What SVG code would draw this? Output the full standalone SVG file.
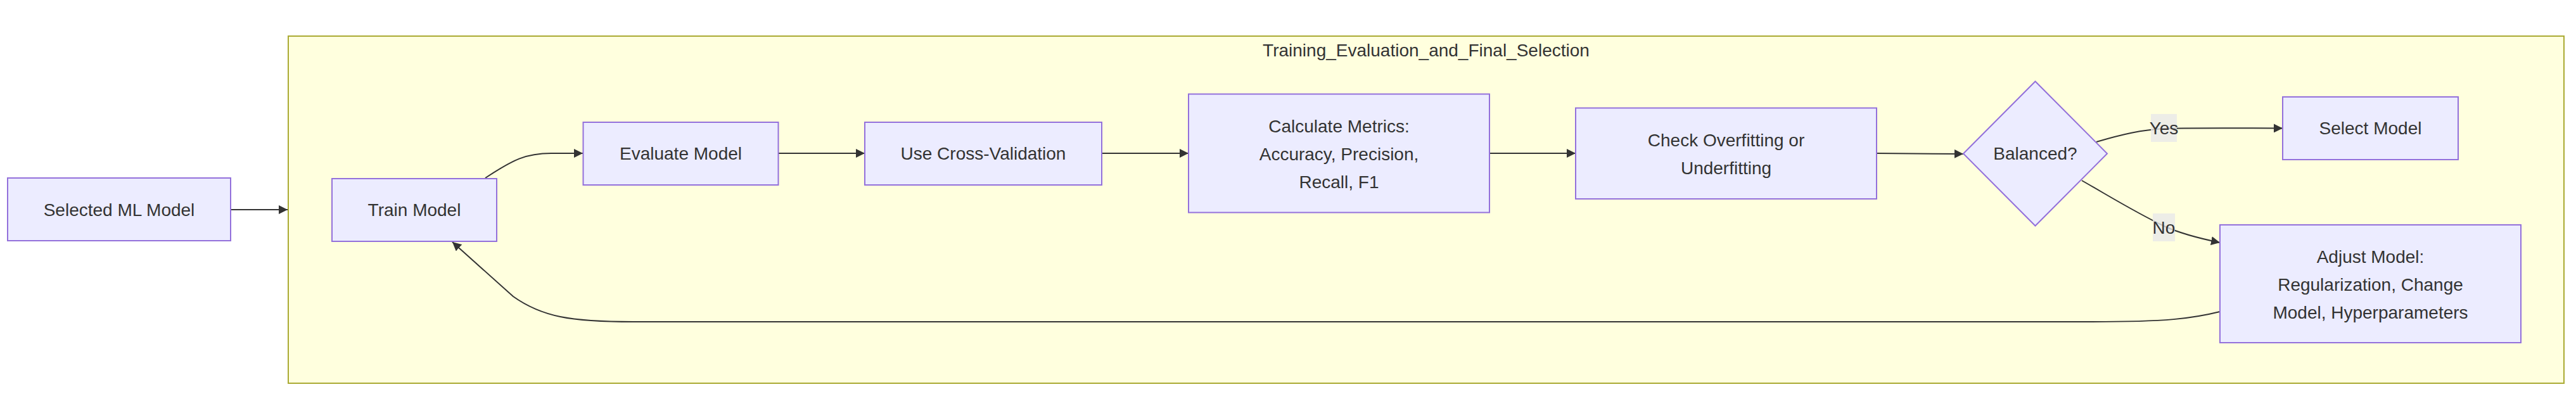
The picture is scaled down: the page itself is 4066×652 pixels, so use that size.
<svg xmlns="http://www.w3.org/2000/svg" width="4066" height="652" viewBox="0 0 4066 652">
<style>
.node rect,.node polygon{fill:#ECECFF;stroke:#9370DB;stroke-width:2}
.cluster rect{fill:#ffffde;stroke:#aaaa33;stroke-width:2}
text{font-family:"Trebuchet MS","Liberation Sans",Arial,sans-serif;font-size:28px;fill:#333333;text-anchor:middle;dominant-baseline:central}
.edge{fill:none;stroke:#333333;stroke-width:2}
.lbl rect{fill:#e8e8e8;fill-opacity:0.8;stroke:none}
</style>
<defs>
<marker id="arrow" viewBox="0 0 10 10" refX="10" refY="5" markerUnits="userSpaceOnUse" markerWidth="14" markerHeight="14" orient="auto">
<path d="M0,0 L10,5 L0,10 z" fill="#333333"/>
</marker>
</defs>
<rect width="4066" height="652" fill="#ffffff"/>
<g id="cluster_Training_Evaluation_and_Final_Selection" class="cluster">
<rect x="455" y="57" width="3592" height="548"/>
<text x="2251" y="79">Training_Evaluation_and_Final_Selection</text>
</g>
<g id="connectors">
<path class="edge" d="M364,331 L454,331" marker-end="url(#arrow)"/>
<path class="edge" d="M766,281 C810,252 830,242 870,242 L920,242" marker-end="url(#arrow)"/>
<path class="edge" d="M1229,242 L1365,242" marker-end="url(#arrow)"/>
<path class="edge" d="M1739,242 L1876,242" marker-end="url(#arrow)"/>
<path class="edge" d="M2351,242 L2487,242" marker-end="url(#arrow)"/>
<path class="edge" d="M2962,242 L3099,243" marker-end="url(#arrow)"/>
<path class="edge" d="M3309,224 C3350,212 3380,205 3416,203 C3440,202 3460,202 3603,202.5" marker-end="url(#arrow)"/>
<path class="edge" d="M3286,285 C3330,310 3370,335 3416,357 C3440,368 3470,376 3504,383" marker-end="url(#arrow)"/>
<path class="edge" d="M3504,492 C3460,503 3420,508 3300,508 L1000,508 C900,508 855,500 810,468 L714,382" marker-end="url(#arrow)"/>
<g class="lbl" id="label_yes">
<rect x="3395" y="180" width="41" height="44"/>
<text x="3415.5" y="202">Yes</text>
</g>
<g class="lbl" id="label_no">
<rect x="3398" y="337" width="35" height="44"/>
<text x="3415.5" y="359">No</text>
</g>
</g>
<g id="node_selected" class="node">
<rect x="12" y="281" width="352" height="99"/>
<text x="188" y="331">Selected ML Model</text>
</g>
<g id="node_train" class="node">
<rect x="524" y="282" width="260" height="99"/>
<text x="654" y="331.5">Train Model</text>
</g>
<g id="node_evaluate" class="node">
<rect x="920.5" y="193" width="308" height="99"/>
<text x="1074.5" y="242.5">Evaluate Model</text>
</g>
<g id="node_cross" class="node">
<rect x="1365" y="193" width="374" height="99"/>
<text x="1552" y="242.5">Use Cross-Validation</text>
</g>
<g id="node_metrics" class="node">
<rect x="1876" y="148.5" width="475" height="187"/>
<text x="2113.5" y="199">Calculate Metrics:</text>
<text x="2113.5" y="243">Accuracy, Precision,</text>
<text x="2113.5" y="287">Recall, F1</text>
</g>
<g id="node_check" class="node">
<rect x="2487" y="170.5" width="475" height="143.5"/>
<text x="2724.5" y="221">Check Overfitting or</text>
<text x="2724.5" y="265">Underfitting</text>
</g>
<g id="node_balanced" class="node">
<polygon points="3099,242.5 3212.5,128.5 3326,242.5 3212.5,356.5"/>
<text x="3212.5" y="242.5">Balanced?</text>
</g>
<g id="node_select" class="node">
<rect x="3603" y="153" width="277" height="99"/>
<text x="3741.5" y="202.5">Select Model</text>
</g>
<g id="node_adjust" class="node">
<rect x="3504" y="355" width="475" height="186"/>
<text x="3741.5" y="405">Adjust Model:</text>
<text x="3741.5" y="449">Regularization, Change</text>
<text x="3741.5" y="493">Model, Hyperparameters</text>
</g>
</svg>
